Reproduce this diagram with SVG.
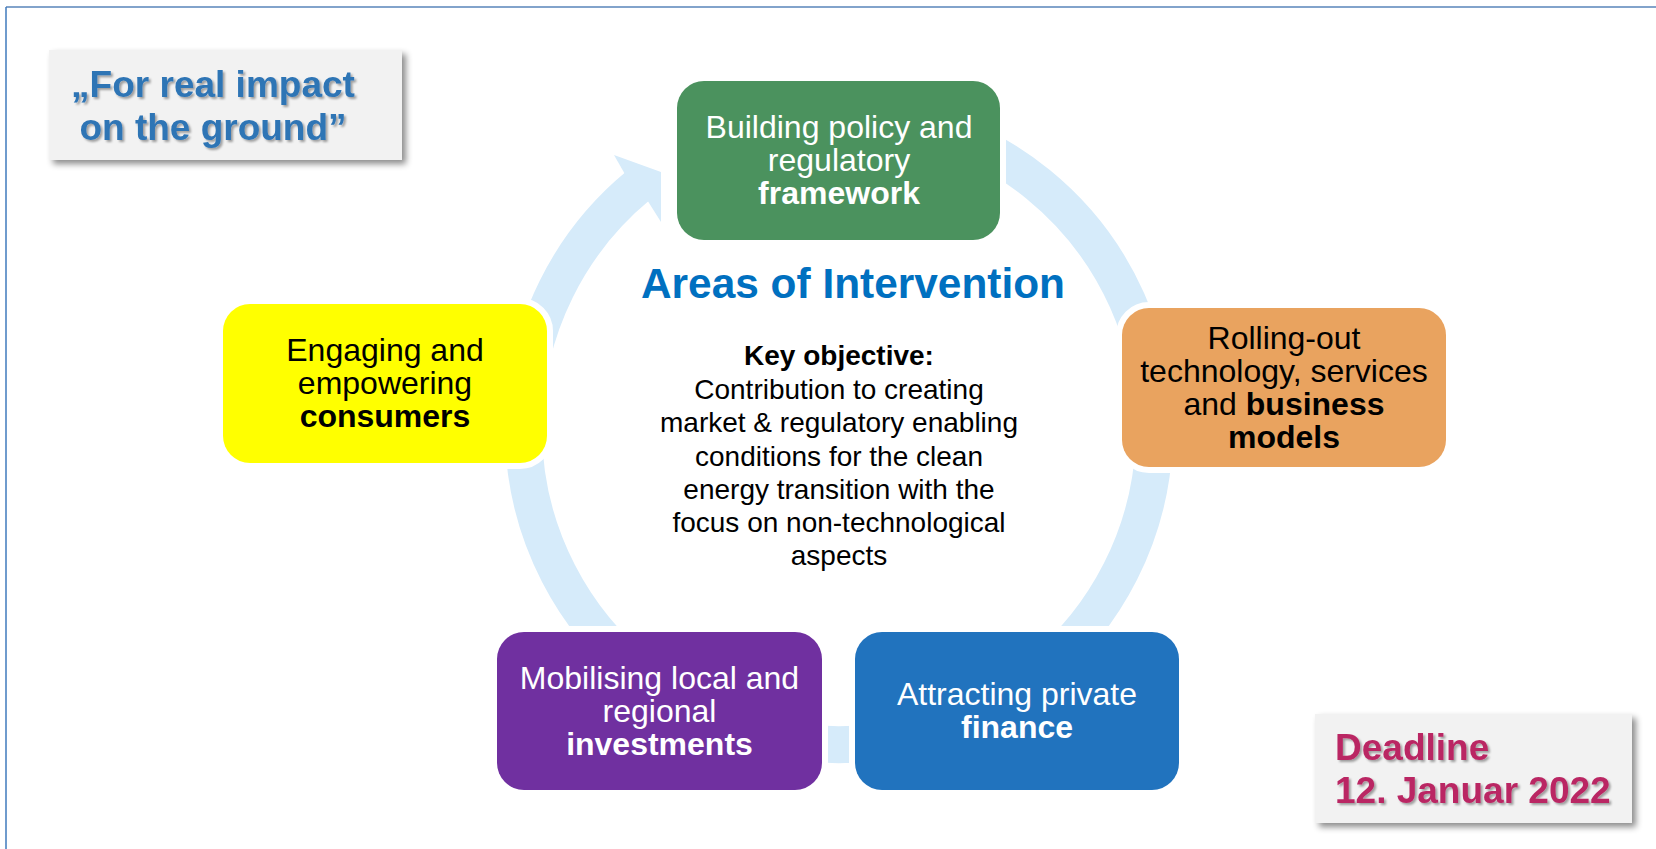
<svg xmlns="http://www.w3.org/2000/svg" width="1656" height="849" viewBox="0 0 1656 849">
<defs>
<style>
.node{stroke:#ffffff;stroke-width:12;paint-order:stroke}
.t{font-family:"Liberation Sans",Arial,sans-serif;font-size:32px;text-anchor:middle}
.b{font-weight:bold}
.w{fill:#ffffff}
.k{fill:#000000}
.ring{fill:none;stroke:#D6EBFA;stroke-width:37}
.callout{fill:#F2F2F2}
.big{font-family:"Liberation Sans",Arial,sans-serif;font-size:37px;font-weight:bold}
.body{font-family:"Liberation Sans",Arial,sans-serif;font-size:28px;text-anchor:middle;fill:#000000}
</style>
<filter id="boxShadow" x="-10%" y="-20%" width="130%" height="150%">
<feDropShadow dx="4" dy="4" stdDeviation="3" flood-color="#000000" flood-opacity="0.45"/>
</filter>
<filter id="textShadow" x="-5%" y="-20%" width="115%" height="150%">
<feDropShadow dx="2" dy="2" stdDeviation="1" flood-color="#000000" flood-opacity="0.35"/>
</filter>
</defs>
<rect x="0" y="0" width="1656" height="849" fill="#ffffff"/>
<g id="frame">
<line x1="6" y1="7" x2="1656" y2="7" stroke="#82A3CB" stroke-width="2"/>
<line x1="6" y1="7" x2="6" y2="849" stroke="#3F7ABD" stroke-width="1.5"/>
</g>
<g id="connectors">
<path class="ring" d="M920.7,124.3 A315.5,315.5 0 1 1 638.3,185.6"/>
<polygon fill="#D6EBFA" points="624.3,173.1 614,155 661,172 661,222 648.1,201.5"/>
</g>
<g id="quote">
<rect class="callout" x="49" y="50" width="353" height="110" filter="url(#boxShadow)"/>
<g class="big" fill="#2E74B5" text-anchor="middle" filter="url(#textShadow)">
<text x="213" y="97">„For real impact</text>
<text x="213" y="140">on the ground”</text>
</g>
</g>
<g id="deadline">
<rect class="callout" x="1315" y="714" width="317" height="109" filter="url(#boxShadow)"/>
<g class="big" fill="#BA2864" filter="url(#textShadow)">
<text x="1335" y="760">Deadline</text>
<text x="1335" y="803">12. Januar 2022</text>
</g>
</g>
<g id="center">
<text x="853" y="298" font-family="'Liberation Sans',Arial,sans-serif" font-size="42.4" font-weight="bold" fill="#0070C0" text-anchor="middle">Areas of Intervention</text>
<text class="body b" x="839" y="365">Key objective:</text>
<text class="body" x="839" y="399">Contribution to creating</text>
<text class="body" x="839" y="432">market &amp; regulatory enabling</text>
<text class="body" x="839" y="466">conditions for the clean</text>
<text class="body" x="839" y="499">energy transition with the</text>
<text class="body" x="839" y="532">focus on non-technological</text>
<text class="body" x="839" y="565">aspects</text>
</g>
<g id="node-policy">
<rect class="node" x="677" y="81" width="323" height="159" rx="27" fill="#4B925E"/>
<text class="t w" x="839" y="138">Building policy and</text>
<text class="t w" x="839" y="171">regulatory</text>
<text class="t w b" x="839" y="204">framework</text>
</g>
<g id="node-technology">
<rect class="node" x="1122" y="308" width="324" height="159" rx="27" fill="#E9A35F"/>
<text class="t k" x="1284" y="349">Rolling-out</text>
<text class="t k" x="1284" y="382">technology, services</text>
<text class="t k" x="1284" y="415">and <tspan class="b">business</tspan></text>
<text class="t k b" x="1284" y="448">models</text>
</g>
<g id="node-finance">
<rect class="node" x="855" y="632" width="324" height="158" rx="27" fill="#2173BE"/>
<text class="t w" x="1017" y="705">Attracting private</text>
<text class="t w b" x="1017" y="738">finance</text>
</g>
<g id="node-investments">
<rect class="node" x="497" y="632" width="325" height="158" rx="27" fill="#7030A0"/>
<text class="t w" x="659.5" y="689">Mobilising local and</text>
<text class="t w" x="659.5" y="722">regional</text>
<text class="t w b" x="659.5" y="755">investments</text>
</g>
<g id="node-consumers">
<rect class="node" x="223" y="304" width="324" height="159" rx="27" fill="#FFFF00"/>
<text class="t k" x="385" y="361">Engaging and</text>
<text class="t k" x="385" y="394">empowering</text>
<text class="t k b" x="385" y="427">consumers</text>
</g>
</svg>
